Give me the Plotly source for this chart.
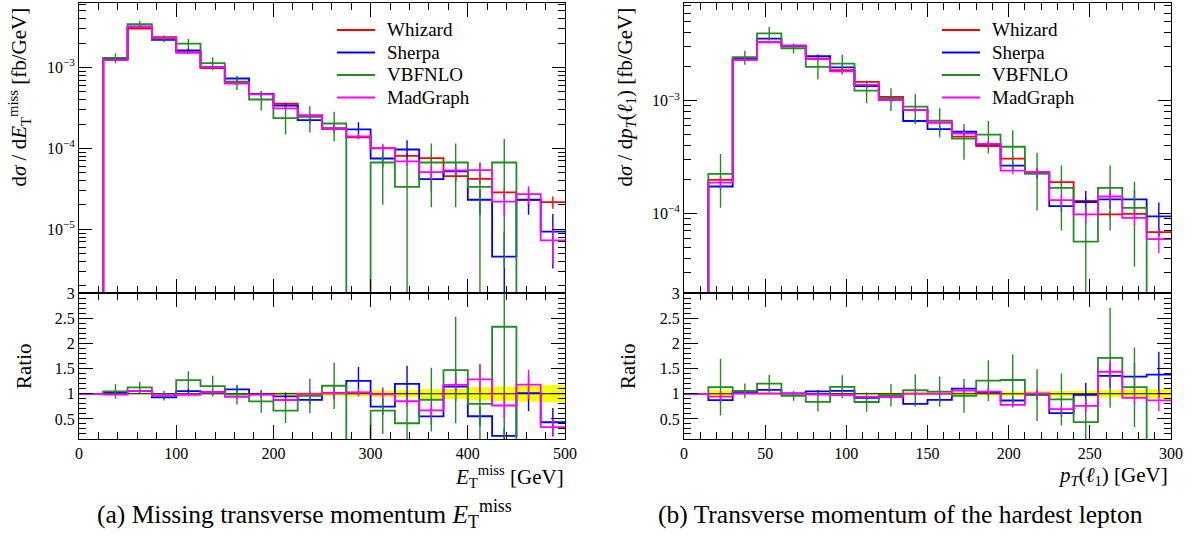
import plotly.graph_objects as go

FONT = "Liberation Serif"
W, H = 1192, 539

# ---------------- (a) missing transverse momentum, 25 GeV bins ----------------
met_edges = list(range(0, 501, 25))
met_whizard = [0, 1.25e-3, 3.03e-3, 2.37e-3, 1.55e-3, 9.8e-4, 6.7e-4, 4.73e-4, 3.56e-4, 2.55e-4,
               1.75e-4, 1.37e-4, 1.01e-4, 8.1e-5, 7.6e-5, 4.55e-5, 4.2e-5, 2.87e-5, 2.3e-5, 2.17e-5]
met_sherpa = [0, 1.29e-3, 3.2e-3, 2.2e-3, 1.63e-3, 1.01e-3, 7.3e-4, 4.68e-4, 3.38e-4, 2.24e-4,
              1.77e-4, 1.72e-4, 7.5e-5, 9.7e-5, 4.18e-5, 5.2e-5, 2.32e-5, 4.6e-6, 2.33e-5, 9.4e-6]
met_vbfnlo = [0, 1.31e-3, 3.42e-3, 2.28e-3, 1.97e-3, 1.13e-3, 6.6e-4, 4.02e-4, 2.36e-4, 2.45e-4,
              2.03e-4, 0, 6.7e-5, 3.35e-5, 6.7e-5, 6.7e-5, 3.35e-5, 6.7e-5, 0, 0]
met_madgraph = [0, 1.23e-3, 3.2e-3, 2.3e-3, 1.52e-3, 1.01e-3, 6.3e-4, 4.65e-4, 3.12e-4, 2.55e-4,
                1.77e-4, 1.41e-4, 1.0e-4, 6.9e-5, 5.1e-5, 5.35e-5, 5.4e-5, 2.2e-5, 2.72e-5, 7.3e-6]
# relative statistical uncertainties per bin
met_whizard_rel = [0, .01, .01, .012, .015, .015, .02, .025, .03, .035,
                   .045, .055, .065, .07, .09, .1, .13, .14, .16, .17]
met_sherpa_rel = [0, .03, .03, .04, .05, .05, .06, .07, .08, .1,
                  .12, .22, .22, .3, .3, .25, .35, 1.0, .35, .65]
met_vbfnlo_rel = [0, .14, .1, .1, .14, .18, .2, .27, .37, .36,
                  .4, 0, .7, 1.3, .72, .72, 1.0, .95, 0, 0]
met_madgraph_rel = [0, .02, .02, .02, .03, .03, .04, .04, .05, .06,
                    .07, .08, .1, .12, .22, .11, .23, .34, .25, .5]

# ---------------- (b) leading-lepton pT, 15 GeV bins ----------------
pt_edges = list(range(0, 301, 15))
pt_whizard = [0, 1.98e-4, 2.30e-3, 3.29e-3, 3.05e-3, 2.38e-3, 1.87e-3, 1.47e-3, 1.08e-3, 8.27e-4,
              6.38e-4, 4.8e-4, 3.96e-4, 3.06e-4, 2.31e-4, 1.89e-4, 1.29e-4, 9.8e-5, 9.9e-5, 6.8e-5]
pt_sherpa = [0, 1.73e-4, 2.37e-3, 3.55e-3, 3.08e-3, 2.49e-3, 1.98e-3, 1.35e-3, 1.04e-3, 6.6e-4,
             5.6e-4, 5.3e-4, 4.1e-4, 2.65e-4, 2.26e-4, 1.16e-4, 1.26e-4, 1.33e-4, 1.33e-4, 9.4e-5]
pt_vbfnlo = [0, 2.24e-4, 2.43e-3, 3.96e-3, 2.92e-3, 2.0e-3, 2.13e-3, 1.23e-3, 1.05e-3, 8.85e-4,
             6.65e-4, 4.6e-4, 5.0e-4, 3.9e-4, 2.25e-4, 1.68e-4, 5.6e-5, 1.68e-4, 1.12e-4, 0]
pt_madgraph = [0, 1.87e-4, 2.32e-3, 3.32e-3, 3.08e-3, 2.34e-3, 1.82e-3, 1.38e-3, 1.01e-3, 8.3e-4,
               6.4e-4, 5.1e-4, 4.13e-4, 2.39e-4, 2.33e-4, 1.31e-4, 9.8e-5, 1.41e-4, 9.1e-5, 5.9e-5]
pt_whizard_rel = [0, .07, .015, .015, .015, .015, .02, .02, .025, .03,
                  .03, .035, .04, .045, .05, .055, .06, .07, .08, .09]
pt_sherpa_rel = [0, .06, .02, .02, .02, .03, .03, .04, .04, .05,
                 .06, .06, .07, .08, .1, .12, .25, .18, .2, .33]
pt_vbfnlo_rel = [0, .5, .14, .14, .1, .23, .2, .23, .23, .3,
                 .29, .35, .32, .4, .53, .58, 1.0, .58, .7, 0]
pt_madgraph_rel = [0, .1, .02, .02, .02, .03, .03, .03, .04, .05,
                   .05, .06, .06, .07, .08, .12, .17, .15, .15, .25]

generators = ["Whizard", "Sherpa", "VBFNLO", "MadGraph"]
colors = {"Whizard": "#ff0000", "Sherpa": "#0000ff", "VBFNLO": "#228b22", "MadGraph": "#ff00ff"}

panels = [
    dict(edges=met_edges,
         vals={"Whizard": met_whizard, "Sherpa": met_sherpa, "VBFNLO": met_vbfnlo, "MadGraph": met_madgraph},
         rel={"Whizard": met_whizard_rel, "Sherpa": met_sherpa_rel, "VBFNLO": met_vbfnlo_rel,
              "MadGraph": met_madgraph_rel},
         main=("x", "y"), ratio=("x2", "y2"), key_x=(337, 375, 385)),
    dict(edges=pt_edges,
         vals={"Whizard": pt_whizard, "Sherpa": pt_sherpa, "VBFNLO": pt_vbfnlo, "MadGraph": pt_madgraph},
         rel={"Whizard": pt_whizard_rel, "Sherpa": pt_sherpa_rel, "VBFNLO": pt_vbfnlo_rel,
              "MadGraph": pt_madgraph_rel},
         main=("x3", "y3"), ratio=("x4", "y4"), key_x=(942, 980, 990)),
]
key_rows = [30, 52.5, 75, 97.5]

FLOOR = 1e-12
LW = 1.8
fig = go.Figure()


def px(x):
    return x / W


def py(y):
    return 1 - y / H


def step_xy(edges, vals, floor):
    ys = [v if v > 0 else floor for v in vals]
    return list(edges), ys + [ys[-1]]


def err_xy(edges, vals, errs, floor):
    xs, ys = [], []
    for i, (v, e) in enumerate(zip(vals, errs)):
        if v <= 0 or e <= 0:
            continue
        c = 0.5 * (edges[i] + edges[i + 1])
        xs += [c, c, None]
        ys += [max(v - e, floor), v + e, None]
    return xs, ys


shapes, ann = [], []
keyfont = dict(family=FONT, size=19, color="black")

for p in panels:
    edges = p["edges"]
    ref = p["vals"]["Whizard"]
    ref_rel = p["rel"]["Whizard"]
    rx, ry = p["ratio"]
    mx, my = p["main"]

    # reference uncertainty band in the ratio panel
    lo = [1 - r if w > 0 else 1 for w, r in zip(ref, ref_rel)]
    hi = [1 + r if w > 0 else 1 for w, r in zip(ref, ref_rel)]
    fig.add_trace(go.Scatter(x=edges, y=lo + [lo[-1]], mode="lines", line=dict(width=0, shape="hv"),
                             xaxis=rx, yaxis=ry, showlegend=False, hoverinfo="skip"))
    fig.add_trace(go.Scatter(x=edges, y=hi + [hi[-1]], mode="lines", line=dict(width=0, shape="hv"),
                             fill="tonexty", fillcolor="#ffff00",
                             xaxis=rx, yaxis=ry, showlegend=False, hoverinfo="skip"))
    fig.add_trace(go.Scatter(x=[edges[0], edges[-1]], y=[1, 1], mode="lines",
                             line=dict(color="black", width=1),
                             xaxis=rx, yaxis=ry, showlegend=False, hoverinfo="skip"))

    for g in generators:
        vals = p["vals"][g]
        errs = [v * r for v, r in zip(vals, p["rel"][g])]
        col = colors[g]
        x, y = step_xy(edges, vals, FLOOR)
        fig.add_trace(go.Scatter(x=x, y=y, mode="lines", name=g, showlegend=False,
                                 line=dict(color=col, width=LW, shape="hv"),
                                 xaxis=mx, yaxis=my))
        ex, ey = err_xy(edges, vals, errs, FLOOR)
        fig.add_trace(go.Scatter(x=ex, y=ey, mode="lines", line=dict(color=col, width=1.4),
                                 xaxis=mx, yaxis=my, showlegend=False, hoverinfo="skip"))
        if g == "Whizard":
            continue

        # ratio to Whizard
        ratio = [v / w if w > 0 else 1.0 for v, w in zip(vals, ref)]
        rerr = [e / w if w > 0 else 0.0 for e, w in zip(errs, ref)]
        x, y = step_xy(edges, ratio, -1.0)
        fig.add_trace(go.Scatter(x=x, y=y, mode="lines", line=dict(color=col, width=LW, shape="hv"),
                                 xaxis=rx, yaxis=ry, showlegend=False))
        ex, ey = err_xy(edges, ratio, rerr, -1.0)
        fig.add_trace(go.Scatter(x=ex, y=ey, mode="lines", line=dict(color=col, width=1.4),
                                 xaxis=rx, yaxis=ry, showlegend=False, hoverinfo="skip"))

    # key: short line sample + generator name
    x0, x1, xt = p["key_x"]
    for g, row in zip(generators, key_rows):
        shapes.append(dict(type="line", xref="paper", yref="paper", x0=px(x0), x1=px(x1),
                           y0=py(row), y1=py(row), line=dict(color=colors[g], width=LW)))
        ann.append(dict(text=g, x=px(xt), y=py(row), xanchor="left", yanchor="middle",
                        showarrow=False, font=keyfont))


tickfont = dict(family=FONT, size=16, color="black")
common = dict(showline=True, linecolor="black", linewidth=1, mirror="allticks", ticks="inside",
              tickcolor="black", showgrid=False, zeroline=False, tickfont=tickfont)

xa_dom = [px(79), px(565)]
xb_dom = [px(684), px(1171)]
main_dom = [py(293.3), py(2.7)]
ratio_dom = [py(439), py(293.3)]

log_a_minor = [m * 10 ** e for e in (-6, -5, -4, -3) for m in range(2, 10)]
log_b_minor = [m * 10 ** e for e in (-5, -4, -3) for m in range(2, 10)]
minor_lin = dict(ticklen=7, ticks="inside", tickcolor="black")

fig.update_layout(
    width=W, height=H, margin=dict(l=0, r=0, t=0, b=0, autoexpand=False),
    paper_bgcolor="white", plot_bgcolor="white",
    font=dict(family=FONT, color="black"),
    showlegend=False,
    xaxis=dict(domain=xa_dom, anchor="y", range=[0, 500], dtick=100, tick0=0, ticklen=14,
               showticklabels=False, minor=dict(dtick=20, **minor_lin), **common),
    yaxis=dict(domain=main_dom, anchor="x", type="log", range=[-5.79, -2.2], tickmode="array",
               tickvals=[1e-5, 1e-4, 1e-3], ticktext=["10<sup>−5</sup>", "10<sup>−4</sup>", "10<sup>−3</sup>"],
               ticklen=13, minor=dict(tickmode="array", tickvals=log_a_minor, **minor_lin), **common),
    xaxis2=dict(domain=xa_dom, anchor="y2", range=[0, 500], dtick=100, tick0=0, ticklen=14,
                minor=dict(dtick=20, **minor_lin), **common),
    yaxis2=dict(domain=ratio_dom, anchor="x2", range=[0.1, 3], dtick=0.5, tick0=0, ticklen=14,
                minor=dict(dtick=0.1, **minor_lin), **common),
    xaxis3=dict(domain=xb_dom, anchor="y3", range=[0, 300], dtick=50, tick0=0, ticklen=14,
                showticklabels=False, minor=dict(dtick=10, **minor_lin), **common),
    yaxis3=dict(domain=main_dom, anchor="x3", type="log", range=[-4.71, -2.13], tickmode="array",
                tickvals=[1e-4, 1e-3], ticktext=["10<sup>−4</sup>", "10<sup>−3</sup>"],
                ticklen=13, minor=dict(tickmode="array", tickvals=log_b_minor, **minor_lin), **common),
    xaxis4=dict(domain=xb_dom, anchor="y4", range=[0, 300], dtick=50, tick0=0, ticklen=14,
                minor=dict(dtick=10, **minor_lin), **common),
    yaxis4=dict(domain=ratio_dom, anchor="x4", range=[0.1, 3], dtick=0.5, tick0=0, ticklen=14,
                minor=dict(dtick=0.1, **minor_lin), **common),
)

lab = dict(family=FONT, size=21, color="black")
ann.append(dict(text="d<i>σ</i> / d<i>E</i><sub>T</sub><sup>miss</sup> [fb/GeV]", x=px(19), y=py(6),
                xanchor="center", yanchor="top", textangle=-90, showarrow=False, font=lab))
ann.append(dict(text="d<i>σ</i> / d<i>p<sub>T</sub></i>(<i>ℓ</i><sub>1</sub>) [fb/GeV]", x=px(626), y=py(6),
                xanchor="center", yanchor="top", textangle=-90, showarrow=False, font=lab))
ann.append(dict(text="Ratio", x=px(24), y=py(366), xanchor="center", yanchor="middle", textangle=-90,
                showarrow=False, font=lab))
ann.append(dict(text="Ratio", x=px(628), y=py(366), xanchor="center", yanchor="middle", textangle=-90,
                showarrow=False, font=lab))
ann.append(dict(text="<i>E</i><sub>T</sub><sup>miss</sup> [GeV]", x=px(566), y=py(476), xanchor="right",
                yanchor="middle", showarrow=False, font=lab))
ann.append(dict(text="<i>p<sub>T</sub></i>(<i>ℓ</i><sub>1</sub>) [GeV]", x=px(1170), y=py(476), xanchor="right",
                yanchor="middle", showarrow=False, font=lab))
cap = dict(family=FONT, size=25.5, color="black")
ann.append(dict(text="(a) Missing transverse momentum <i>E</i><sub>T</sub><sup>miss</sup>", x=px(304), y=py(514),
                xanchor="center", yanchor="middle", showarrow=False, font=cap))
ann.append(dict(text="(b) Transverse momentum of the hardest lepton", x=px(900), y=py(514),
                xanchor="center", yanchor="middle", showarrow=False, font=cap))
for a in ann:
    a.update(xref="paper", yref="paper")
fig.update_layout(annotations=ann, shapes=shapes)

fig.write_html("out.html")
